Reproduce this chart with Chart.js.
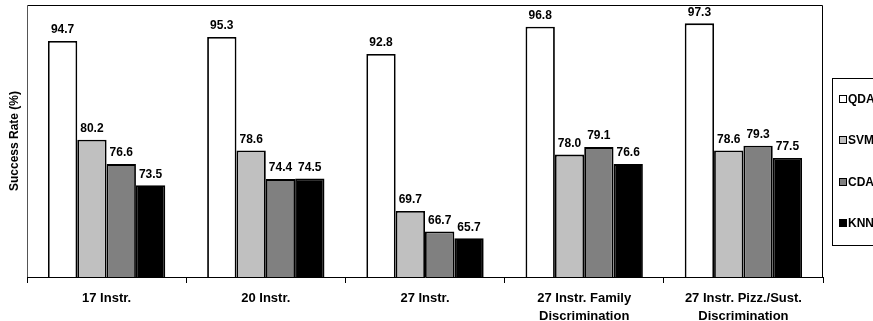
<!DOCTYPE html>
<html>
<head>
<meta charset="utf-8">
<script src="https://cdn.jsdelivr.net/npm/chart.js@4"></script>
<style>
  html, body { margin: 0; padding: 0; background: #fff; }
  #wrap { width: 873px; height: 321px; position: relative; }
</style>
</head>
<body>
<div id="wrap"><canvas id="chart" width="873" height="321"></canvas></div>
<script>
const categories = [
  '17 Instr.',
  '20 Instr.',
  '27 Instr.',
  ['27 Instr. Family', 'Discrimination'],
  ['27 Instr. Pizz./Sust.', 'Discrimination']
];
const qda = [94.7, 95.3, 92.8, 96.8, 97.3];
const svm = [80.2, 78.6, 69.7, 78.0, 78.6];
const cda = [76.6, 74.4, 66.7, 79.1, 79.3];
const knn = [73.5, 74.5, 65.7, 76.6, 77.5];
const seriesNames = ['QDA', 'SVM', 'CDA', 'KNN'];
const seriesColors = ['#ffffff', '#c0c0c0', '#808080', '#000000'];

const FONT = '"Liberation Sans", Arial, sans-serif';

const ctx = document.getElementById('chart').getContext('2d');

// frame, value labels, axis title and legend
const extras = {
  id: 'extras',
  beforeDatasetsDraw(chart) {
    const a = chart.chartArea;
    const c = chart.ctx;
    c.save();
    c.lineWidth = 1;
    c.strokeStyle = '#000';
    c.beginPath();
    c.moveTo(a.left + 0.5, a.top + 0.5);
    c.lineTo(a.right - 0.5, a.top + 0.5);
    c.lineTo(a.right - 0.5, a.bottom);
    c.stroke();
    c.strokeStyle = '#555';
    c.beginPath();
    c.moveTo(a.left + 0.5, a.bottom);
    c.lineTo(a.left + 0.5, a.top + 0.5);
    c.stroke();
    c.restore();
  },
  afterDatasetsDraw(chart) {
    const c = chart.ctx;
    c.save();
    c.fillStyle = '#000';
    c.font = 'bold 12px ' + FONT;
    c.textAlign = 'center';
    c.textBaseline = 'bottom';
    chart.data.datasets.forEach((ds, i) => {
      chart.getDatasetMeta(i).data.forEach((bar, j) => {
        c.fillText(ds.data[j].toFixed(1), bar.x, bar.y - 5);
      });
    });

    // y axis title
    const a = chart.chartArea;
    c.save();
    c.translate(15, (a.top + a.bottom) / 2);
    c.rotate(-Math.PI / 2);
    c.textBaseline = 'middle';
    c.fillText('Success Rate (%)', 0, 0);
    c.restore();

    // legend
    c.strokeStyle = '#000';
    c.lineWidth = 1;
    c.strokeRect(832.5, 78.5, 60, 167);
    const ys = [99, 140, 182, 223];
    c.textAlign = 'left';
    c.textBaseline = 'middle';
    seriesNames.forEach((name, i) => {
      c.fillStyle = seriesColors[i];
      c.fillRect(839.5, ys[i] - 3.5, 7, 7);
      c.strokeRect(839.5, ys[i] - 3.5, 7, 7);
      c.fillStyle = '#000';
      c.fillText(name, 848, ys[i] + 0.5);
    });
    c.restore();
  }
};

const datasets = [qda, svm, cda, knn].map((vals, i) => ({
  label: seriesNames[i],
  data: vals,
  backgroundColor: seriesColors[i],
  borderColor: '#000',
  borderWidth: 1.8,
  borderSkipped: 'bottom',
  categoryPercentage: 0.737,
  barPercentage: 1.0
}));

new Chart(ctx, {
  type: 'bar',
  data: { labels: categories, datasets: datasets },
  options: {
    responsive: false,
    animation: false,
    layout: { padding: { left: 27, top: 5, right: 50, bottom: 0 } },
    plugins: {
      legend: { display: false },
      tooltip: { enabled: false }
    },
    scales: {
      x: {
        afterFit(scale) { scale.height = 44; },
        grid: {
          display: true,
          drawOnChartArea: false,
          offset: true,
          tickLength: 6,
          color: '#000'
        },
        border: { display: true, color: '#000', width: 1 },
        ticks: {
          color: '#000',
          padding: 7,
          maxRotation: 0,
          autoSkip: false,
          font: { family: FONT, size: 13, weight: 'bold', lineHeight: 1.35 }
        }
      },
      y: {
        display: false,
        min: 60,
        max: 100
      }
    }
  },
  plugins: [extras]
});
</script>
</body>
</html>
